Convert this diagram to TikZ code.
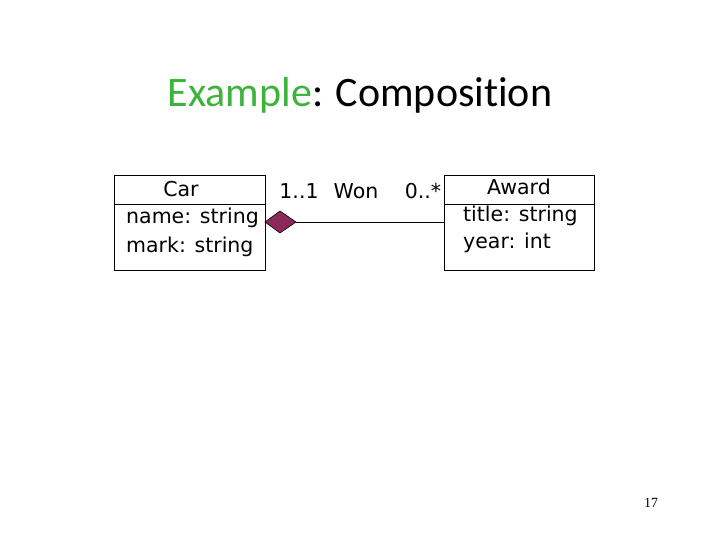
\documentclass[tikz,border=0pt]{standalone}
\usepackage{fontspec}
\setmainfont{DejaVu Sans}
\newfontfamily\titlefont[Ligatures={NoCommon}]{Carlito}
\newfontfamily\numfont{Liberation Serif}
\definecolor{exgreen}{RGB}{60,180,60}
\definecolor{diam}{RGB}{140,40,90}
\begin{document}
\begin{tikzpicture}[x=1pt,y=-1pt,
  box/.style={draw,line width=0.8pt},
  txt/.style={font=\fontsize{20.5}{24}\selectfont,inner sep=0pt}]
\useasboundingbox (0,0) rectangle (720,540);
\node[font=\titlefont\fontsize{42}{48}\selectfont] (title) at (360,95) {\textcolor{exgreen}{Example}: Composition};
% Car
\draw[box] (114,175) rectangle (265,270);
\draw[box] (114,204) -- (265,204);
\node[txt] (car) at (181,189) {Car};
\node[txt,anchor=west] (cn) at (126,218) {name: string};
\node[txt,anchor=west] (cm) at (126,247) {mark: string};
% Award
\draw[box] (444,175) rectangle (594,270);
\draw[box] (444,204) -- (594,204);
\node[txt] (aw) at (519,187) {Award};
\node[txt,anchor=west] (at) at (463,216) {title: string};
\node[txt,anchor=west] (ay) at (463,243) {year: int};
% diamond + line
\coordinate (d0) at (265,222);
\coordinate (d1) at (280,211);
\coordinate (d2) at (296,222);
\coordinate (d3) at (280,233);
\coordinate (ae) at (444,222);
\draw[fill=diam,line width=0.6pt] (d0) -- (d1) -- (d2) -- (d3) -- cycle;
\draw[line width=0.8pt] (d2) -- (ae);
\node[txt] (m1) at (299,191) {1..1};
\node[txt] (won) at (356,191) {Won};
\node[txt] (m2) at (423,191) {0..*};
\node[font=\numfont\fontsize{14}{16}\selectfont] (pg) at (651,503) {17};
\end{tikzpicture}
\end{document}
